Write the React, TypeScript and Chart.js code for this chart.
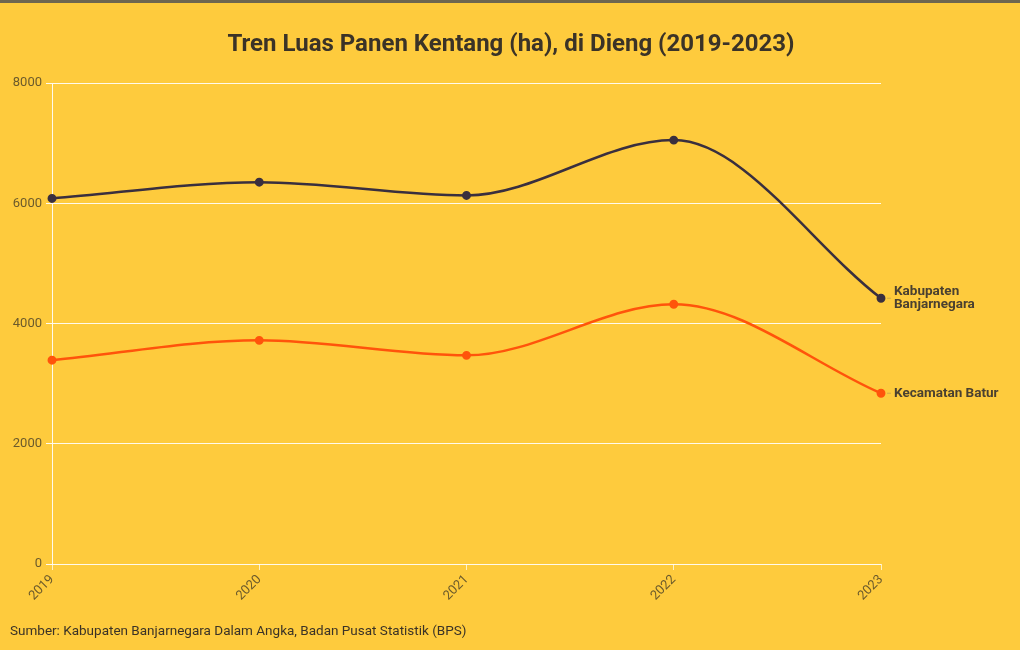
import React, { useEffect, useRef } from "react";
import { Chart, registerables } from "chart.js";

Chart.register(...registerables);

const years = ["2019", "2020", "2021", "2022", "2023"];
const kabupaten = [6080, 6350, 6130, 7050, 4420];
const batur = [3390, 3720, 3470, 4320, 2840];
const seriesNames = [["Kabupaten", "Banjarnegara"], ["Kecamatan Batur"]];
const yTicks = [0, 2000, 4000, 6000, 8000];
const title = "Tren Luas Panen Kentang (ha), di Dieng (2019-2023)";
const source = "Sumber: Kabupaten Banjarnegara Dalam Angka, Badan Pusat Statistik (BPS)";

const BG = "#FECB3D";
const DARK = "#3A2F3E";
const ORANGE = "#FF540B";
const TEXT = "#3B3327";
const TICK = "#6B5A2C";
const FONT = "Roboto, 'DejaVu Sans', sans-serif";

export default function App() {
  const ref = useRef<HTMLCanvasElement | null>(null);
  useEffect(() => {
    document.body.style.margin = "0";
    const canvas = ref.current!;
    const labelPlugin = {
      id: "extras",
      afterDatasetsDraw(chart: any) {
        const ctx = chart.ctx;
        ctx.save();
        ctx.fillStyle = TEXT;
        ctx.font = `bold 24px ${FONT}`;
        ctx.textAlign = "center";
        ctx.textBaseline = "middle";
        ctx.fillText(title, 511, 45);
        ctx.font = `13.5px ${FONT}`;
        ctx.textAlign = "left";
        ctx.fillStyle = TEXT;
        ctx.fillText(source, 10, 632);
        chart.data.datasets.forEach((ds: any, i: number) => {
          const meta = chart.getDatasetMeta(i);
          const pt = meta.data[meta.data.length - 1];
          const lines = seriesNames[i];
          ctx.strokeStyle = "rgba(120,110,100,0.35)";
          ctx.lineWidth = 1;
          ctx.beginPath();
          ctx.moveTo(pt.x + 6, pt.y);
          ctx.lineTo(pt.x + 10, pt.y);
          ctx.stroke();
          ctx.font = `bold 13.5px ${FONT}`;
          ctx.fillStyle = "#4A4030";
          ctx.textAlign = "left";
          ctx.textBaseline = "middle";
          const lh = 13;
          const y0 = pt.y - ((lines.length - 1) * lh) / 2;
          lines.forEach((l, j) => ctx.fillText(l, pt.x + 13, y0 + j * lh));
        });
        ctx.restore();
      },
    };
    const chart = new Chart(canvas, {
      type: "line",
      data: {
        labels: years,
        datasets: [
          {
            label: seriesNames[0].join(" "),
            data: kabupaten,
            borderColor: DARK,
            backgroundColor: DARK,
            borderWidth: 2.5,
            pointRadius: 3.2,
            pointHoverRadius: 3.2,
            cubicInterpolationMode: "monotone",
          },
          {
            label: seriesNames[1].join(" "),
            data: batur,
            borderColor: ORANGE,
            backgroundColor: ORANGE,
            borderWidth: 2.5,
            pointRadius: 3.2,
            pointHoverRadius: 3.2,
            cubicInterpolationMode: "monotone",
          },
        ],
      },
      options: {
        animation: false,
        responsive: false,
        layout: { padding: { top: 83, right: 139, bottom: 36, left: 0 } },
        plugins: {
          legend: { display: false },
          tooltip: { enabled: false },
          title: { display: false },
        },
        scales: {
          x: {
            offset: false,
            grid: {
              drawOnChartArea: false,
              drawTicks: true,
              tickLength: 6,
              color: "rgba(255,255,255,0.7)",
            },
            border: { display: false },
            ticks: {
              color: TICK,
              font: { family: FONT, size: 13 },
              minRotation: 45,
              maxRotation: 45,
              padding: 2,
            },
            afterFit(scale: any) {
              scale.height = 50;
            },
          },
          y: {
            min: 0,
            max: 8000,
            afterBuildTicks(scale: any) {
              scale.ticks = yTicks.map((v) => ({ value: v }));
            },
            grid: {
              color: "rgba(255,255,255,0.9)",
              drawTicks: true,
              tickLength: 6,
            },
            border: { display: true, color: "rgba(255,255,255,0.9)" },
            ticks: {
              color: TICK,
              font: { family: FONT, size: 13 },
              padding: 4,
              callback: (v: any) => String(v),
            },
            afterFit(scale: any) {
              scale.width = 52;
            },
          },
        },
      },
      plugins: [labelPlugin],
    });
    return () => chart.destroy();
  }, []);
  return (
    <div style={{ width: 1020, height: 650, background: BG, position: "relative" }}>
      <div style={{ position: "absolute", left: 0, top: 0, width: 1020, height: 3, background: "#6E6650" }} />
      <canvas ref={ref} width={1020} height={650} style={{ display: "block" }} />
    </div>
  );
}
